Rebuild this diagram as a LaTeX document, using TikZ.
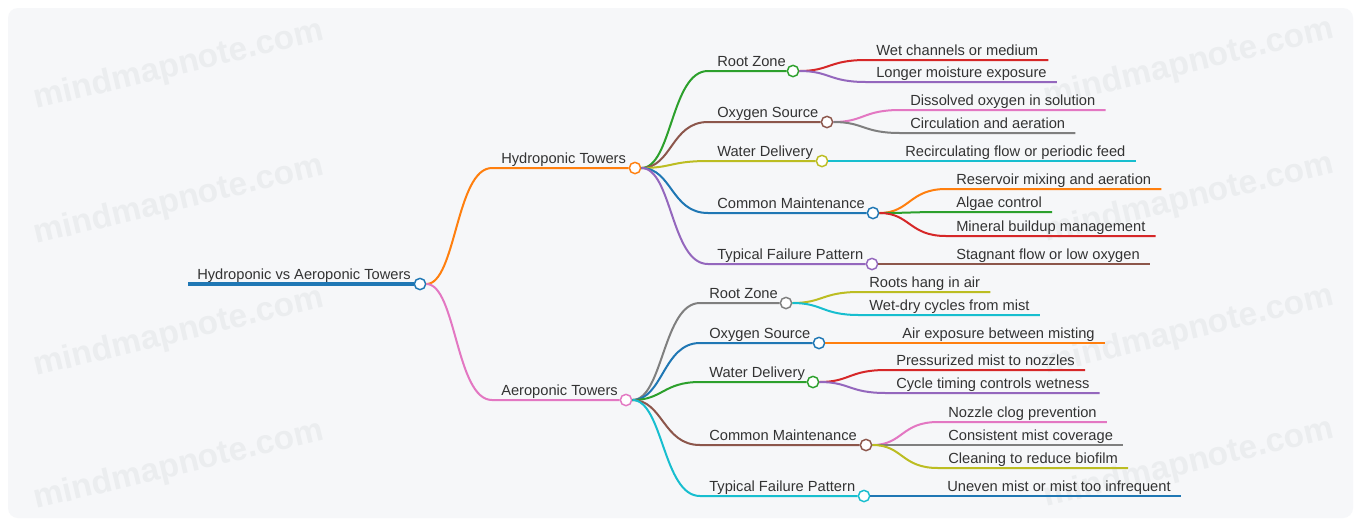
\documentclass[tikz,border=0pt]{standalone}
\usepackage{fontspec}
\setmainfont{Liberation Sans}
\usepackage{xcolor}
\definecolor{blue1}{HTML}{1F77B4}
\definecolor{orange1}{HTML}{FF7F0E}
\definecolor{green1}{HTML}{2CA02C}
\definecolor{red1}{HTML}{D62728}
\definecolor{purple1}{HTML}{9467BD}
\definecolor{brown1}{HTML}{8C564B}
\definecolor{pink1}{HTML}{E377C2}
\definecolor{gray1}{HTML}{7F7F7F}
\definecolor{olive1}{HTML}{BCBD22}
\definecolor{cyan1}{HTML}{17BECF}
\definecolor{textgray}{HTML}{333333}
\definecolor{panel}{HTML}{F6F7F9}
\definecolor{wmgray}{HTML}{EBEDEF}
\usetikzlibrary{positioning}

\begin{document}
\begin{tikzpicture}[
  x=0.75pt,y=-0.75pt,
  lbl/.style={anchor=base west,inner sep=0pt,font=\fontsize{11}{13}\selectfont,text=textgray},
  leaf/.style={lbl,inner xsep=7.5pt},
  dot/.style={circle,draw,fill=white,line width=1.1pt,minimum size=8.5pt,inner sep=0pt},
  link/.style={line width=1.5pt},
  wmark/.style={font=\bfseries\fontsize{25}{28}\selectfont,text=wmgray,rotate=13.5},
]
  \useasboundingbox (0,0) rectangle (1361,526);
  \fill[white] (0,0) rectangle (1361,526);
  \fill[panel,rounded corners=7.5pt] (8,8) rectangle (1353,518);

  % watermark
  \foreach \x/\y [count=\i] in {179/66,179/201,179/333,179/466,
                               1189/64,1189/199,1189/331,1189/464}
    \node[wmark] (wm\i) at (\x,\y) {mindmapnote.com};

  % root
  \coordinate (root-s) at (188,284);
  \node[dot,draw=blue1] (root) at (420,284) {};
  \node[lbl] (root-t) at (197,279) {Hydroponic vs Aeroponic Towers};
  \draw[blue1,line width=3pt] (root-s) -- (root);

  % the two towers
  \coordinate (hy-s) at (492,168);
  \node[dot,draw=orange1] (hy) at (635,168) {};
  \node[lbl] (hy-t) at (501,163) {Hydroponic Towers};
  \draw[link,orange1] (root) .. controls +(36,0) and +(-36,0) .. (hy-s) -- (hy);

  \coordinate (ae-s) at (492,400);
  \node[dot,draw=pink1] (ae) at (626,400) {};
  \node[lbl] (ae-t) at (501,395) {Aeroponic Towers};
  \draw[link,pink1] (root) .. controls +(36,0) and +(-36,0) .. (ae-s) -- (ae);

  % aspects
  \foreach \p/\n/\c/\sx/\y/\cx/\t in {
      hy/hr/green1/708/71/793/Root Zone,
      hy/ho/brown1/708/122/827/Oxygen Source,
      hy/hw/olive1/708/161/822/Water Delivery,
      hy/hm/blue1/708/213/873/Common Maintenance,
      hy/hf/purple1/708/264/872/Typical Failure Pattern,
      ae/ar/gray1/700/303/786/Root Zone,
      ae/ao/blue1/700/343/819/Oxygen Source,
      ae/aw/green1/700/382/813/Water Delivery,
      ae/am/brown1/700/445/866/Common Maintenance,
      ae/af/cyan1/700/496/864/Typical Failure Pattern}{
    \coordinate (\n-s) at (\sx,\y);
    \node[dot,draw=\c] (\n) at (\cx,\y) {};
    \node[lbl] (\n-t) at (\sx+9,\y-5) {\t};
    \draw[link,color=\c] (\p) .. controls +(37,0) and +(-37,0) .. (\n-s) -- (\n);
  }

  % details
  \foreach \p/\n/\c/\sx/\y/\t in {
      hr/hr1/red1/866/60/Wet channels or medium,
      hr/hr2/purple1/866/82/Longer moisture exposure,
      ho/ho1/pink1/900/110/Dissolved oxygen in solution,
      ho/ho2/gray1/900/133/Circulation and aeration,
      hw/hw1/cyan1/895/161/Recirculating flow or periodic feed,
      hm/hm1/orange1/946/189/Reservoir mixing and aeration,
      hm/hm2/green1/946/212/Algae control,
      hm/hm3/red1/946/236/Mineral buildup management,
      hf/hf1/brown1/946/264/Stagnant flow or low oxygen,
      ar/ar1/olive1/859/292/Roots hang in air,
      ar/ar2/cyan1/859/315/Wet-dry cycles from mist,
      ao/ao1/orange1/892/343/Air exposure between misting,
      aw/aw1/red1/886/370/Pressurized mist to nozzles,
      aw/aw2/purple1/886/393/Cycle timing controls wetness,
      am/am1/pink1/938/422/Nozzle clog prevention,
      am/am2/gray1/938/445/Consistent mist coverage,
      am/am3/olive1/938/468/Cleaning to reduce biofilm,
      af/af1/blue1/937/496/Uneven mist or mist too infrequent}{
    \coordinate (\n) at (\sx,\y);
    \node[leaf] (\n-t) at (\sx,\y-5) {\t};
    \draw[link,color=\c] (\p) .. controls +(37,0) and +(-37,0) .. (\n) -- (\n -| \n-t.east);
  }
\end{tikzpicture}
\end{document}
